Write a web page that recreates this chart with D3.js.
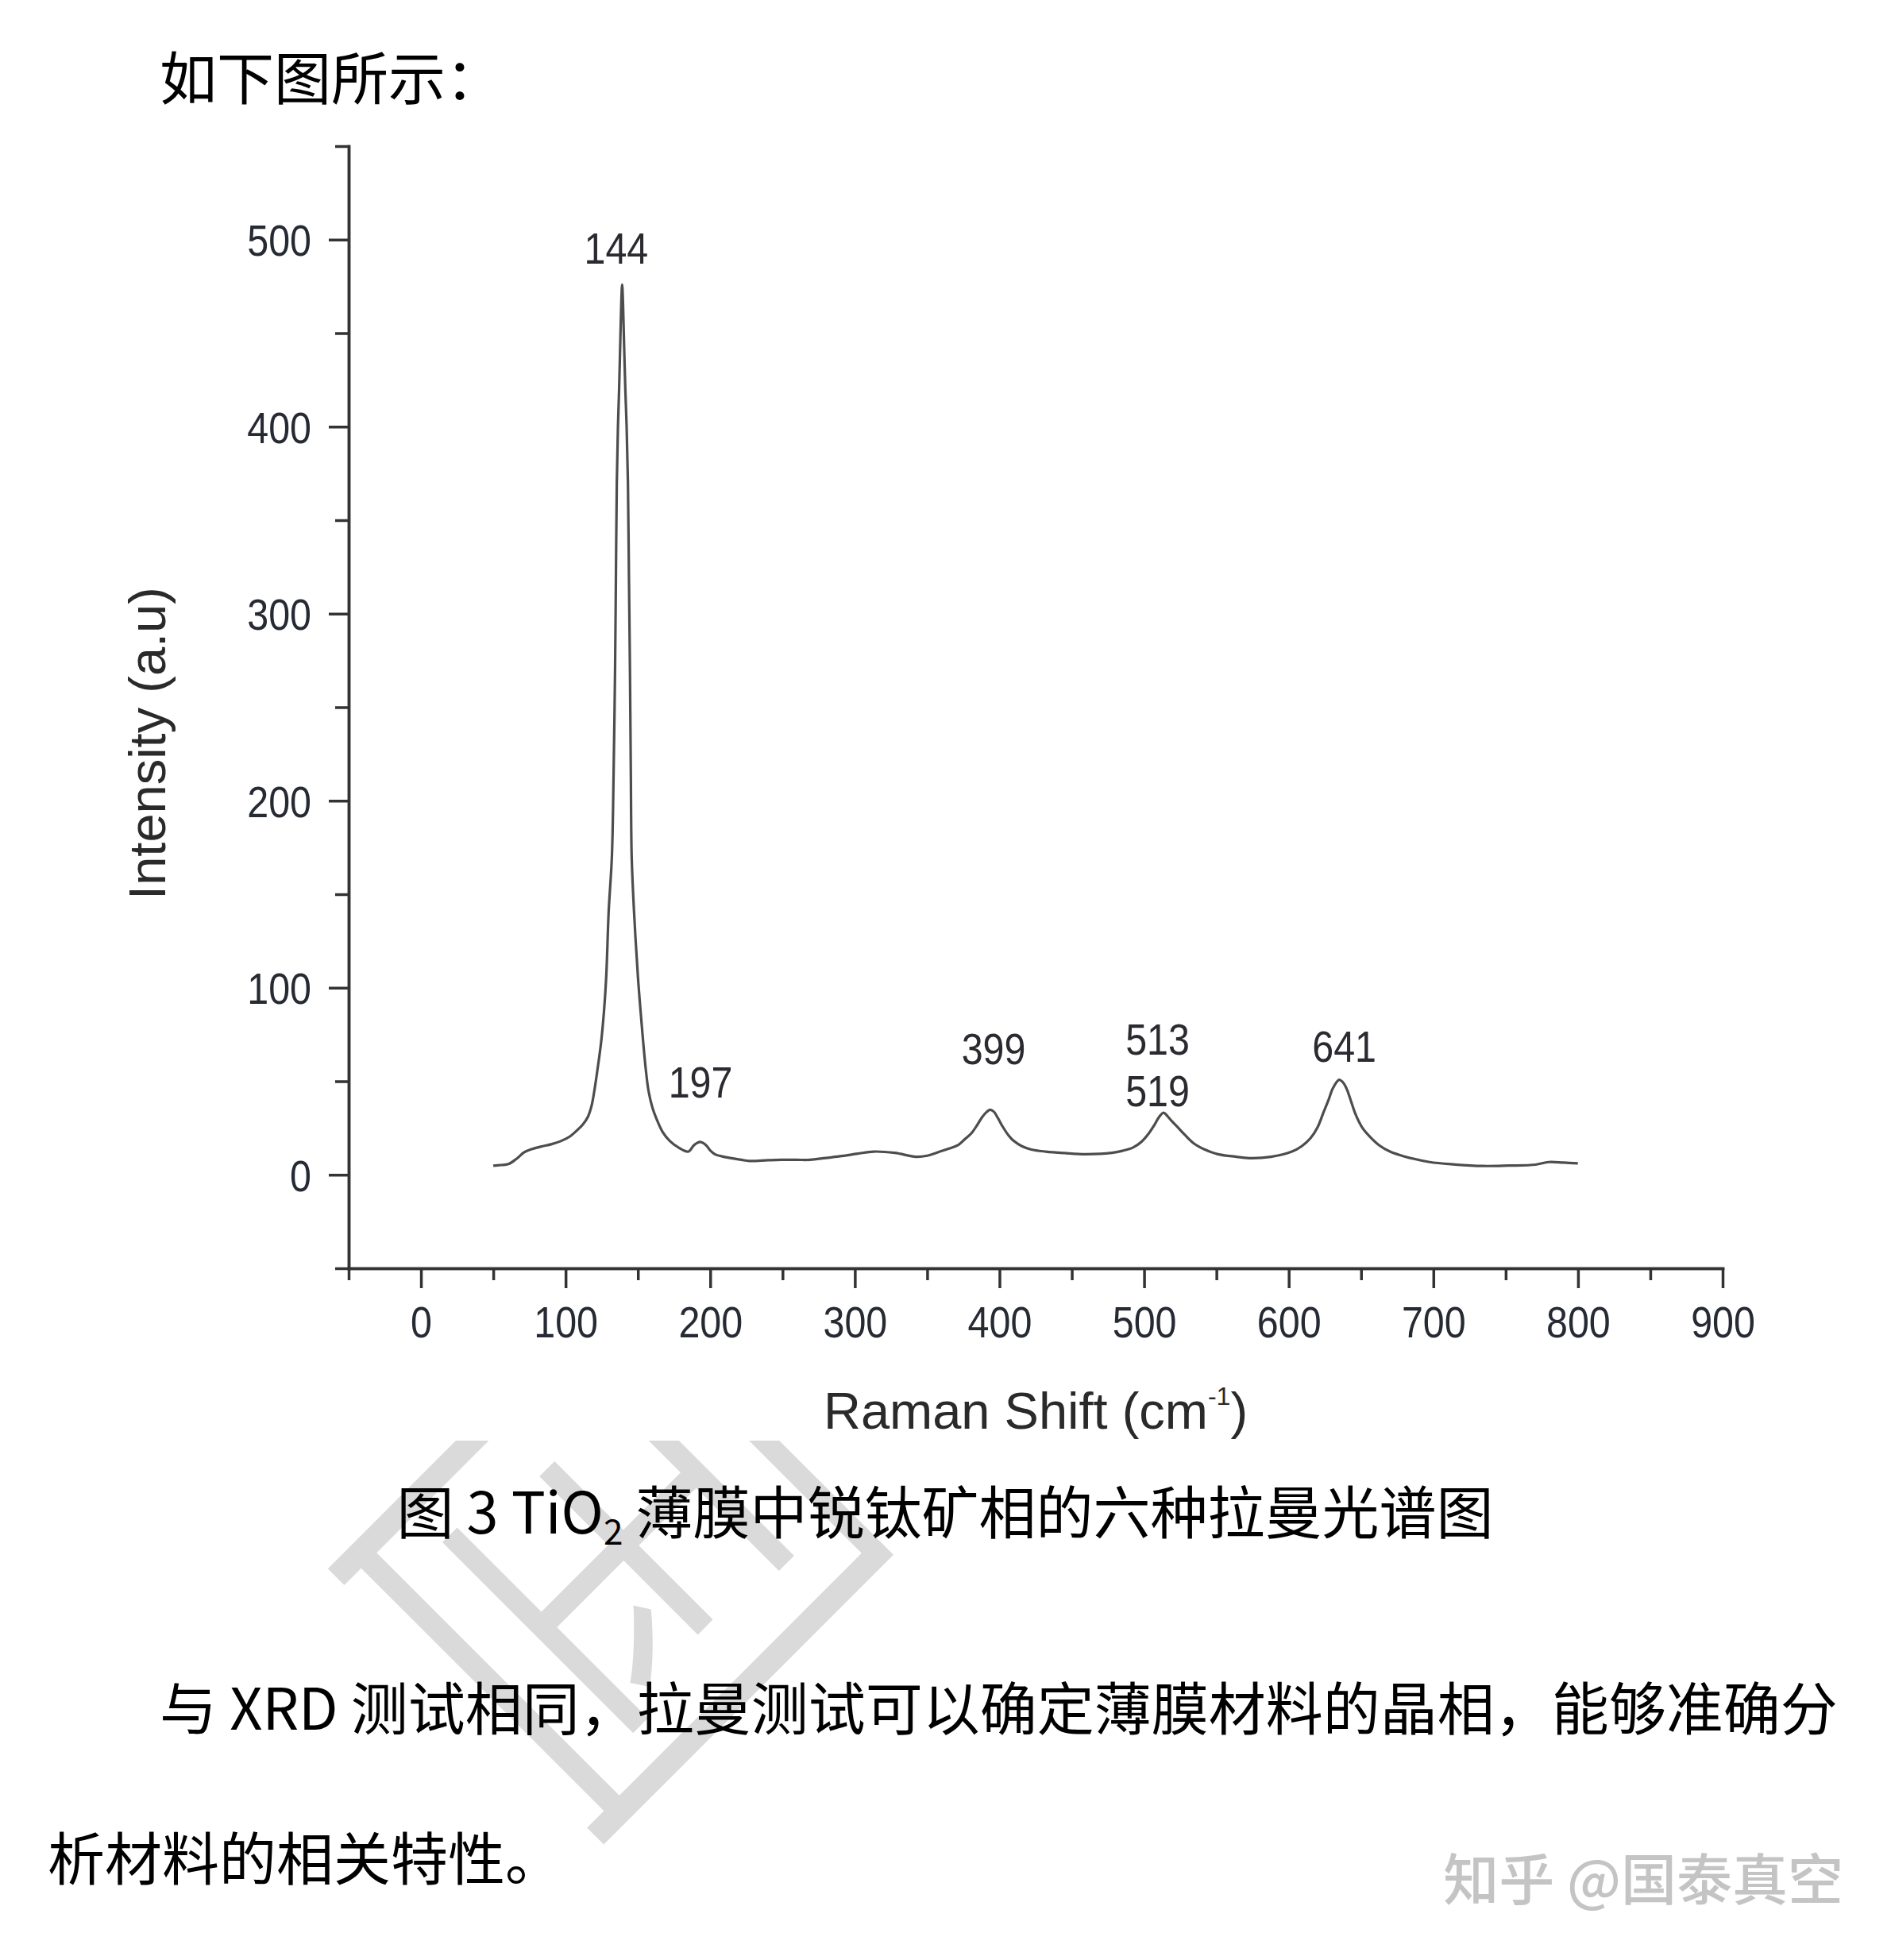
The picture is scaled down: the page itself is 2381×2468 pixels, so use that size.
<!DOCTYPE html>
<html><head><meta charset="utf-8">
<script src="https://cdn.jsdelivr.net/npm/d3@7"></script>
<style>html,body{margin:0;padding:0;background:#fff}</style>
</head><body>
<svg id="c" width="2381" height="2468" xmlns="http://www.w3.org/2000/svg"></svg>
<script>
// ---------- data ----------
const ramanShift = [50,55,60.4,66,71.4,77,84.2,90,97,103,108,112,115.3,118,119.9,122,124.5,126.5,128.1,129.8,
  132.0,133.2,134.2,134.8,135.4,136.2,137.0,137.8,138.5,139.1,139.7,140.4,141.3,142.2,143.1,143.8,144.5,145.1,145.7,
  147.3,150,152,153.7,155.5,157.3,160,162.8,167,172,178,184.8,188.5,191,193,195,197.7,200,203.2,210,221.5,227,240,249,260,269,280,291,302,313,
  327.6,342.3,350,358.8,365,371.6,376,380.7,384.5,388,391,393.5,396,399,402,406.3,410,415.5,422,432,445,459.5,477.7,485,492.4,498,503.4,507,510,513.4,516,519,523.5,528,534.5,542,551,562,572.9,
  587.6,602.2,609,615,620,624.2,627.5,630.6,634.8,637,639.8,643,646.2,651,657.2,663,670,680,697.4,715,734,752,770.6,779.7,790,799.9];
const intensity = [4.8,5.2,5.7,8.5,12,13.8,15.3,16.3,18.1,20.5,23.8,27,30.8,37,45,56,70.5,87,106,141,
  170,215,270,320,370,400,420,445,466,476,466,445,420,400,370,320,270,215,170,
  141,106,86,70.5,56,45,36,30,23,18.1,14.6,12.4,15.6,17,17.6,17,15.3,13,11,9.5,8,7.4,7.8,8,8,8,9,10,11.3,12.4,
  11.7,9.6,10.2,12.4,14,16,19,22.3,26.5,30.8,33.5,34.8,33.8,30.2,26,21,18,15.3,13.5,12.4,11.6,11,11.7,12.8,14.6,17.5,22.3,26.5,30.5,33.2,31.5,28.8,25.2,21.5,16.7,13.5,11,9.8,8.9,
  9.6,12.4,15.3,19.5,25.5,33.7,40,46.4,50.8,49.8,46.4,39.5,32.3,25,19.5,15.5,12.4,9.8,6.8,5.5,4.7,4.9,5.4,6.8,6.5,6.1];

const yMajorTicks = [0,100,200,300,400,500];
const yMinorTicks = [-50,50,150,250,350,450,550];
const xMajorTicks = [0,100,200,300,400,500,600,700,800,900];
const xMinorTicks = [-50,50,150,250,350,450,550,650,750,850];

const peakLabels = ["144","197","399","513","519","641"];
const peakLabelX = [135,193.3,395.9,509.3,509.3,638.4];
const peakLabelY = [487,41.5,59.2,64.1,36.5,60.6];

const yTitle = "Intensity (a.u)";
const xTitleMain = "Raman Shift (cm";
const xTitleSup = "-1";
const introText = "如下图所示：";
const captionA = "图 3 TiO";
const captionSub = "2";
const captionB = " 薄膜中锐钛矿相的六种拉曼光谱图";
const paraLine1 = "与 XRD 测试相同，拉曼测试可以确定薄膜材料的晶相，能够准确分";
const paraLine2 = "析材料的相关特性。";
const credit = "知乎 @国泰真空";
const logoChar = "国";

// ---------- drawing ----------
const svg = d3.select("#c");
const CJK = "'Noto Sans CJK SC','Noto Sans',sans-serif";
const LAT = "'Liberation Sans',Arial,sans-serif";

svg.append("rect").attr("width",2381).attr("height",2468).attr("fill","#fff");

// watermark logo, partly hidden under the (white) chart picture
svg.append("text")
  .attr("transform","translate(803,1932) rotate(45)")
  .attr("text-anchor","middle").attr("dominant-baseline","central")
  .attr("font-family",CJK).attr("font-weight",300).attr("font-size",600)
  .attr("fill","#dadada").text(logoChar);
svg.append("rect").attr("x",0).attr("y",0).attr("width",2381).attr("height",1814).attr("fill","#fff");

const x = d3.scaleLinear().domain([-50,900]).range([439,2169]);
const y = d3.scaleLinear().domain([-50,550]).range([1597,184]);

const axisColor = "#333";
const tickFont = 55;
const tickFill = "#262a33";

// Y axis
const gy = svg.append("g").attr("transform",`translate(${x(-50)},0)`);
gy.call(d3.axisLeft(y).tickValues(yMajorTicks).tickSize(25).tickSizeOuter(0).tickPadding(0));
gy.append("g").call(d3.axisLeft(y).tickValues(yMinorTicks).tickSize(17).tickSizeOuter(0).tickFormat(""));
// X axis
const gx = svg.append("g").attr("transform",`translate(0,${y(-50)})`);
gx.call(d3.axisBottom(x).tickValues(xMajorTicks).tickSize(25).tickSizeOuter(0).tickPadding(0));
gx.append("g").call(d3.axisBottom(x).tickValues(xMinorTicks).tickSize(15).tickSizeOuter(0).tickFormat(""));

[gy,gx].forEach(g=>{
  g.selectAll("path.domain").attr("stroke",axisColor).attr("stroke-width",3.5).attr("stroke-linecap","square");
  g.selectAll(".tick line").attr("stroke",axisColor).attr("stroke-width",3.5);
  g.attr("font-family",LAT).attr("font-size",tickFont);
});
gy.selectAll(".tick text").attr("x",0).attr("dy","0.36em").attr("fill",tickFill)
  .attr("transform","translate(-47,0) scale(0.88,1)");
gx.selectAll(".tick text").attr("y",0).attr("dy",0).attr("fill",tickFill)
  .attr("transform","translate(0,87) scale(0.88,1)");

// spectrum line
const line = d3.line().x(i=>x(ramanShift[i])).y(i=>y(intensity[i])).curve(d3.curveCatmullRom.alpha(0.5));
svg.append("path").attr("d",line(d3.range(ramanShift.length)))
  .attr("fill","none").attr("stroke","#4d4d4d").attr("stroke-width",3.2).attr("stroke-linejoin","round");

// peak labels
svg.append("g").selectAll("text").data(peakLabels).join("text")
  .attr("transform",(d,i)=>`translate(${x(peakLabelX[i])},${y(peakLabelY[i])}) scale(0.88,1)`)
  .attr("text-anchor","middle").attr("font-family",LAT).attr("font-size",tickFont)
  .attr("fill","#2a2a30").text(d=>d);

// axis titles
svg.append("text").attr("transform","translate(208,936) rotate(-90)")
  .attr("text-anchor","middle").attr("font-family",LAT).attr("font-size",65)
  .attr("fill","#2a2a2a").text(yTitle);
const xt = svg.append("text").attr("x",(x(-50)+x(900))/2).attr("y",1799)
  .attr("text-anchor","middle").attr("font-family",LAT).attr("font-size",65).attr("fill","#2a2a2a");
xt.append("tspan").text(xTitleMain);
xt.append("tspan").attr("font-size",32).attr("dy",-30).text(xTitleSup);
xt.append("tspan").attr("font-size",65).attr("dy",30).text(")");

// page texts
svg.append("text").attr("x",201).attr("y",125).attr("font-family",CJK).attr("font-size",72)
  .attr("fill","#000").text(introText);
const cap = svg.append("text").attr("x",1190).attr("y",1931).attr("text-anchor","middle")
  .attr("font-family",CJK).attr("font-size",72).attr("fill","#000");
cap.append("tspan").text(captionA);
cap.append("tspan").attr("font-size",44).attr("dy",14).text(captionSub);
cap.append("tspan").attr("font-size",72).attr("dy",-14).text(captionB);
svg.append("text").attr("x",201).attr("y",2178).attr("font-family",CJK).attr("font-size",72)
  .attr("fill","#000").text(paraLine1);
svg.append("text").attr("x",60).attr("y",2367).attr("font-family",CJK).attr("font-size",72)
  .attr("fill","#000").text(paraLine2);
svg.append("text").attr("x",2321).attr("y",2393).attr("text-anchor","end").attr("font-family",CJK)
  .attr("font-size",70).attr("font-weight",500).attr("fill","#c4c4c4").text(credit);
</script>
</body></html>
